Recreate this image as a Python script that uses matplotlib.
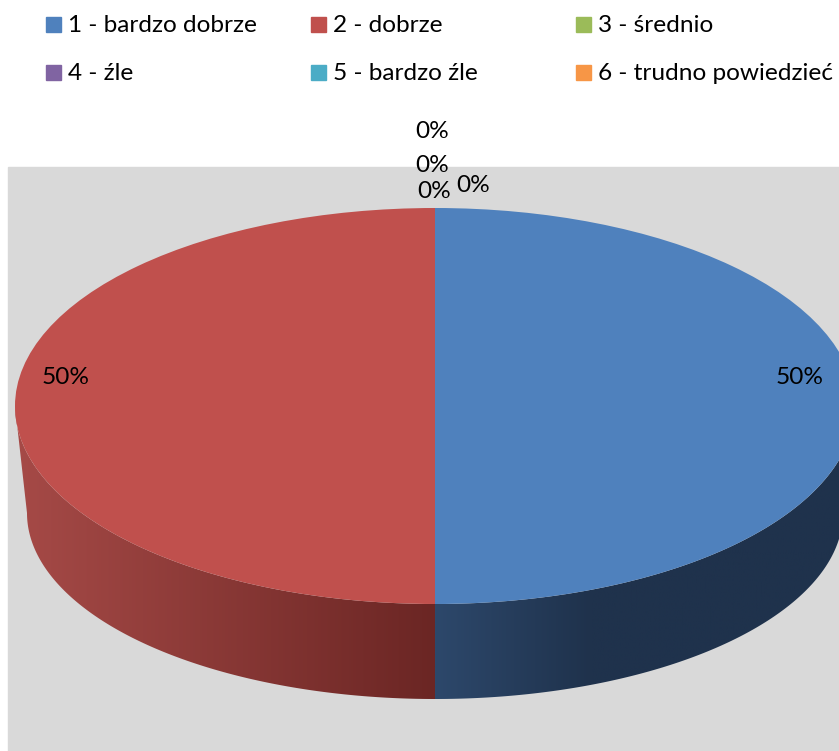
import numpy as np
import matplotlib
matplotlib.use("Agg")
import matplotlib.pyplot as plt
from matplotlib.colors import LinearSegmentedColormap
from matplotlib.patches import PathPatch, Rectangle
from matplotlib.path import Path

labels = ["1 - bardzo dobrze", "2 - dobrze", "3 - średnio",
          "4 - źle", "5 - bardzo źle", "6 - trudno powiedzieć"]
values = [50, 50, 0, 0, 0, 0]
colors = ["#4F81BD", "#C0504D", "#9BBB59", "#8064A2", "#4BACC6", "#F79646"]

W, H = 839, 751
CX, CY, RX, RY = 435, 406, 420, 198
plt.rcParams["font.family"] = ["Lato", "DejaVu Sans"]
FONT = 17.6


def fx(px):
    return px / W


def fy(py):
    return 1 - py / H


# shading of the visible side wall, left to right
wall_stops = {
    0: [(0, "#2D486B"), (0.37, "#1F324C"), (1, "#1F324C")],
    1: [(0, "#A64A47"), (1, "#6B2624")],
}

fig = plt.figure(figsize=(W / 100, H / 100), dpi=100)
fig.patches.append(Rectangle((fx(8), 0), 1 - fx(8), fy(167), color="#D9D9D9",
                             transform=fig.transFigure, zorder=-1))

ax = fig.add_axes([0, 0, 1, 1], facecolor="none")
wedges, _ = ax.pie(values, colors=colors, startangle=90, counterclock=False,
                   radius=1, wedgeprops={"linewidth": 0, "zorder": 3})

# bottom rim is a bit smaller than the top one, looks like perspective
bottom_x, bottom_y, bottom_off = 408 / RX, 186 / RY, -107 / RY

for i, w in enumerate(wedges):
    # only the part on the front half is visible
    a = max(w.theta1, -180)
    b = min(w.theta2, 0)
    if b <= a or i not in wall_stops:
        continue
    t = np.radians(np.linspace(a, b, 200))
    top = np.column_stack([np.cos(t), np.sin(t)])
    bottom = np.column_stack([bottom_x * np.cos(t),
                              bottom_y * np.sin(t) + bottom_off])[::-1]
    verts = np.vstack([top, bottom, top[:1]])
    cmap = LinearSegmentedColormap.from_list(f"wall{i}", wall_stops[i])
    im = ax.imshow(np.linspace(0, 1, 256)[None, :], cmap=cmap, aspect="auto",
                   extent=(verts[:, 0].min(), verts[:, 0].max(),
                           verts[:, 1].min(), verts[:, 1].max()),
                   zorder=2)
    im.set_clip_path(PathPatch(Path(verts, closed=True), transform=ax.transData))

ax.set_aspect("auto")
ax.set_xlim(-CX / RX, (W - CX) / RX)
ax.set_ylim((CY - H) / RY, CY / RY)
ax.axis("off")

# legend, two rows of three
for i, (name, c) in enumerate(zip(labels, colors)):
    col, row = i % 3, i // 3
    x0 = 46 + col * 265
    yc = 24 + row * 48
    fig.patches.append(Rectangle((fx(x0), fy(yc + 8)), 15 / W, 15 / H, color=c,
                                 transform=fig.transFigure))
    fig.text(fx(x0 + 22), fy(yc + 1), name, fontsize=FONT, va="center", ha="left",
             color="black")

# data labels
label_pos = [(800, 377), (66, 377), (432, 131), (432, 165), (434, 192), (473, 185)]
total = sum(values)
for v, (px, py) in zip(values, label_pos):
    fig.text(fx(px), fy(py), f"{v / total:.0%}", fontsize=FONT, ha="center",
             va="center", color="black", zorder=5)

fig.savefig("out.png", dpi=100)
